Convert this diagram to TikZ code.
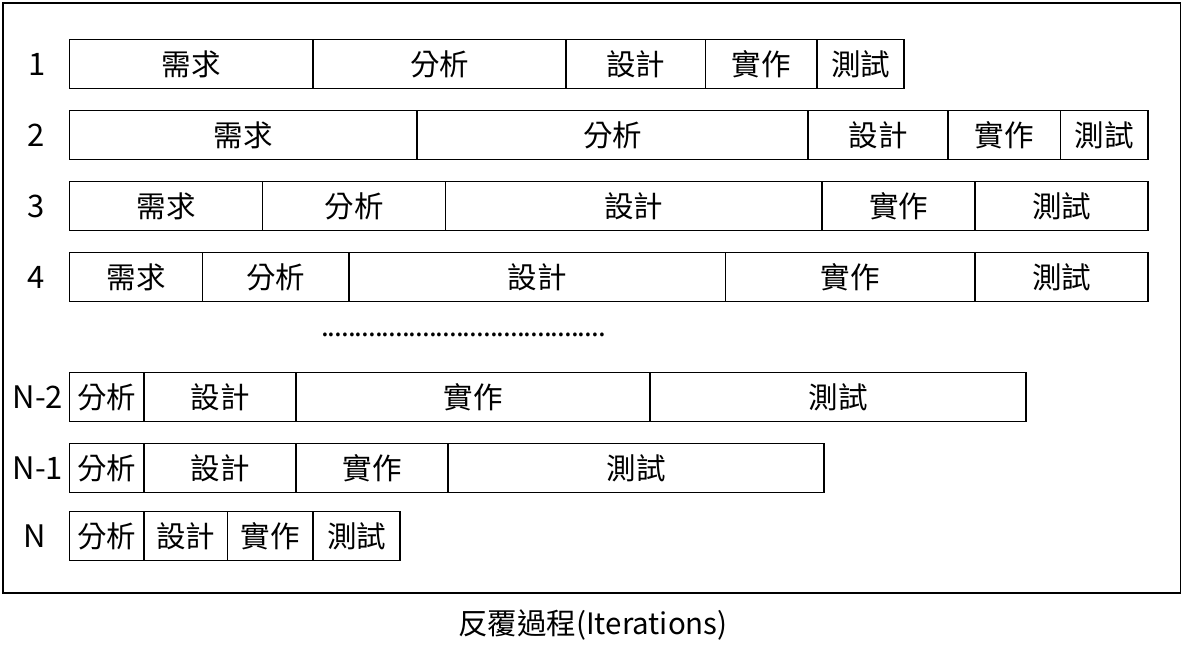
\documentclass[tikz,border=0pt]{standalone}
\usepackage{fontspec}
\setmainfont{Noto Sans CJK TC}
\newcommand\cellrow[3]{%
  \foreach \a/\b/\t [count=\i] in {#3} {
    \node[cell, minimum width={\b-\a}] (#1c\i) at ({(\a+\b)/2},#2) {\t};
  }}
\begin{document}
\begin{tikzpicture}[x=1pt,y=-1pt,
  cell/.style={draw, line width=1.8pt, inner sep=0pt, minimum height=49pt,
    font=\fontsize{29.5}{30}\selectfont},
  lab/.style={font=\fontsize{31}{32}\selectfont},
  captext/.style={font=\fontsize{29.5}{30}\selectfont}]
\useasboundingbox (0,0) rectangle (1181,646);
\node[draw, line width=2pt, minimum width=1178pt, minimum height=590pt,
  inner sep=0pt, anchor=north west] (frame) at (1.5,1.5) {};
% rows
\cellrow{r1}{64}{69.5/313/需求, 313/566/分析, 566/705.5/設計, 705.5/817/實作, 817/904/測試}
\cellrow{r2}{135}{69.5/417/需求, 417/808/分析, 808/948/設計, 948/1060.5/實作, 1060.5/1148/測試}
\cellrow{r3}{206}{69.5/262.5/需求, 262.5/445.5/分析, 445.5/822/設計, 822/975/實作, 975/1148/測試}
\cellrow{r4}{277}{69.5/202.5/需求, 202.5/349/分析, 349/725.5/設計, 725.5/975/實作, 975/1148/測試}
\cellrow{r5}{397}{69.5/144/分析, 144/296/設計, 296/650/實作, 650/1026/測試}
\cellrow{r6}{468}{69.5/144/分析, 144/296/設計, 296/448/實作, 448/824/測試}
\cellrow{r7}{536}{69.5/144/分析, 144/227.5/設計, 227.5/313/實作, 313/400/測試}
% row labels
\node[lab] (l1) at (37,64) {1};
\node[lab] (l2) at (36,135) {2};
\node[lab] (l3) at (36,206) {3};
\node[lab] (l4) at (36,277) {4};
\node[lab] (l5) at (38,397) {N-2};
\node[lab] (l6) at (38,468) {N-1};
\node[lab] (l7) at (35,536) {N};
% dots
\node[inner sep=0pt, font=\fontsize{28}{28}\selectfont] (dots) at (463.5,335)
  {\hbox to 284pt{\xleaders\hbox to 6.67pt{\hss.\hss}\hfill}};
% caption
\node[captext] (caption) at (593,625) {反覆過程(Iterations)};
\end{tikzpicture}
\end{document}
